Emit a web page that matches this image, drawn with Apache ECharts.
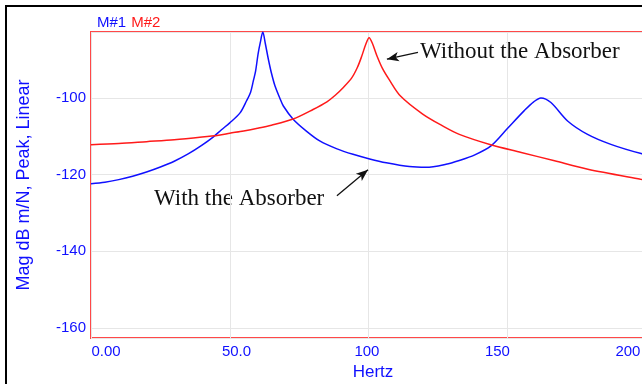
<!DOCTYPE html>
<html>
<head>
<meta charset="utf-8">
<script src="https://cdn.jsdelivr.net/npm/echarts@6/dist/echarts.min.js"></script>
<style>
html,body{margin:0;padding:0;background:#fff;}
#chart{width:642px;height:384px;}
</style>
</head>
<body>
<div id="chart"></div>
<script>
// Data: [frequency Hz, magnitude dB]
var withAbsorberHz = [0,5,10,15,20,25,30,35,40,44,47,50,53.7,56,57.5,58.5,59.3,60.2,61.0,61.9,62.8,63.9,65,66.3,68,69.3,72.9,77.7,82.4,88.4,94.4,100.4,106.4,114.7,120.7,127.9,132.7,138.1,144.1,150.1,156.1,159.5,162.1,165.7,171.7,178.9,187.3,198.2,205];
var withAbsorberDb = [-122.4,-122.0,-121.3,-120.4,-119.3,-118.0,-116.5,-114.6,-112.3,-110.2,-108.3,-106.5,-103.9,-100.8,-98.5,-95.5,-93.0,-88.5,-85.5,-82.8,-85.8,-89.9,-93.5,-96.9,-100.0,-102.1,-105.6,-108.7,-111.2,-113.2,-114.7,-115.9,-116.9,-117.9,-118.1,-117.3,-116.3,-114.9,-112.5,-107.9,-103.3,-101.0,-100.0,-101.2,-106.0,-109.5,-112.1,-114.5,-115.5];

var withoutAbsorberHz = [0,10,20,30,40,46,50,55,60,65,72.8,80,85,88,91,94,96,97.5,99,100.2,101.4,103,105,107.5,111.5,119.5,126.7,132.7,144,155,167,179,198,205];
var withoutAbsorberDb = [-112.2,-111.9,-111.4,-110.9,-110.2,-109.7,-109.2,-108.6,-107.9,-107.1,-105.5,-103.0,-101.0,-99.3,-97.2,-94.7,-92.0,-89.2,-86.0,-84.3,-85.8,-89.0,-92.3,-95.3,-99.5,-104.2,-107.3,-109.5,-112.2,-114.2,-116.4,-118.6,-121.2,-122.1];

var xTickValues = [0, 50, 100, 150, 200];
var xTickLabels = ['0.00', '50.0', '100', '150', '200'];
var yTickValues = [-100, -120, -140, -160];
var yTickLabels = ['-100', '-120', '-140', '-160'];

var seriesNames = ['M#1', 'M#2'];
var annotationTexts = ['Without the Absorber', 'With the Absorber'];

function pairs(xs, ys) { return xs.map(function (x, i) { return [x, ys[i]]; }); }

var BLUE = '#1010ff';
var RED = '#ff1a1a';
var chart = echarts.init(document.getElementById('chart'), null, {renderer: 'canvas'});

var option = {
  animation: false,
  backgroundColor: '#ffffff',
  title: {
    left: 92, top: 9,
    text: '{a|' + seriesNames[0] + '} {b|' + seriesNames[1] + '}',
    textStyle: {
      fontWeight: 'normal',
      rich: {
        a: {color: BLUE, fontSize: 15, fontWeight: 'normal', fontFamily: 'Liberation Sans, Arial'},
        b: {color: RED, fontSize: 15, fontWeight: 'normal', fontFamily: 'Liberation Sans, Arial'}
      }
    }
  },
  grid: {
    left: 91, top: 32, width: 569, bottom: 46,
    outerBoundsMode: 'none', containLabel: false,
    show: true, borderColor: '#ff4848', borderWidth: 2, backgroundColor: '#ffffff'
  },
  xAxis: [{
    type: 'value', min: 0, max: 205, interval: 50,
    name: 'Hertz', nameLocation: 'middle', nameGap: 26,
    nameTextStyle: {color: BLUE, fontSize: 17, fontFamily: 'Liberation Sans, Arial', padding: [0, 5, 0, 0]},
    axisLine: {show: false}, axisTick: {show: false}, axisLabel: {show: false},
    splitLine: {show: true, lineStyle: {color: '#e6e6e6', width: 1}}
  }, {
    type: 'value', min: -5.747, max: 212.3, position: 'bottom',
    axisLine: {show: false}, axisTick: {show: false}, splitLine: {show: false},
    axisLabel: {
      show: true, customValues: xTickValues, margin: 6,
      color: BLUE, fontSize: 15, fontFamily: 'Liberation Sans, Arial',
      formatter: function (v) { var i = xTickValues.indexOf(v); return i >= 0 ? xTickLabels[i] : ''; }
    }
  }],
  yAxis: {
    type: 'value', min: -162.6, max: -82.8, splitNumber: 4,
    name: 'Mag dB m/N, Peak, Linear', nameLocation: 'middle', nameGap: 58, nameRotate: 90,
    nameTextStyle: {color: BLUE, fontSize: 18, fontFamily: 'Liberation Sans, Arial'},
    axisLine: {show: false}, axisTick: {show: false},
    axisLabel: {
      customValues: yTickValues, margin: 5,
      color: BLUE, fontSize: 15, fontFamily: 'Liberation Sans, Arial',
      formatter: function (v) { var i = yTickValues.indexOf(v); return i >= 0 ? yTickLabels[i] : ''; }
    },
    splitLine: {show: true, lineStyle: {color: '#e6e6e6', width: 1}}
  },
  series: [{
    name: seriesNames[0], type: 'line', xAxisIndex: 0,
    data: pairs(withAbsorberHz, withAbsorberDb),
    showSymbol: false, smooth: 0.3,
    lineStyle: {color: BLUE, width: 1.5}, itemStyle: {color: BLUE},
    markLine: {
      silent: true, animation: false,
      lineStyle: {color: '#111', width: 1.3, type: 'solid'},
      label: {show: false},
      symbolSize: [7, 12],
      data: [[{coord: [88.6, -125.5], symbol: 'none'}, {coord: [99.8, -118.7], symbol: 'arrow'}]]
    }
  }, {
    name: seriesNames[1], type: 'line', xAxisIndex: 0,
    data: pairs(withoutAbsorberHz, withoutAbsorberDb),
    showSymbol: false, smooth: 0.3,
    lineStyle: {color: RED, width: 1.5}, itemStyle: {color: RED},
    markLine: {
      silent: true, animation: false,
      lineStyle: {color: '#111', width: 1.3, type: 'solid'},
      label: {show: false},
      symbolSize: [7, 12],
      data: [[{coord: [117.8, -88.1], symbol: 'none'}, {coord: [106.6, -89.9], symbol: 'arrow'}]]
    }
  }],
  graphic: [{
    type: 'polyline', silent: true,
    shape: {points: [[6, 384], [6, 6], [642, 6]]},
    style: {stroke: '#000', lineWidth: 2, fill: null}
  }, {
    type: 'text', silent: true, x: 420, y: 52,
    style: {text: annotationTexts[0], fill: '#111', font: '23px "Liberation Serif", "Times New Roman", serif', verticalAlign: 'middle'}
  }, {
    type: 'text', silent: true, x: 154, y: 199,
    style: {text: annotationTexts[1], fill: '#111', font: '23px "Liberation Serif", "Times New Roman", serif', verticalAlign: 'middle'}
  }]
};
chart.setOption(option);
</script>
</body>
</html>
